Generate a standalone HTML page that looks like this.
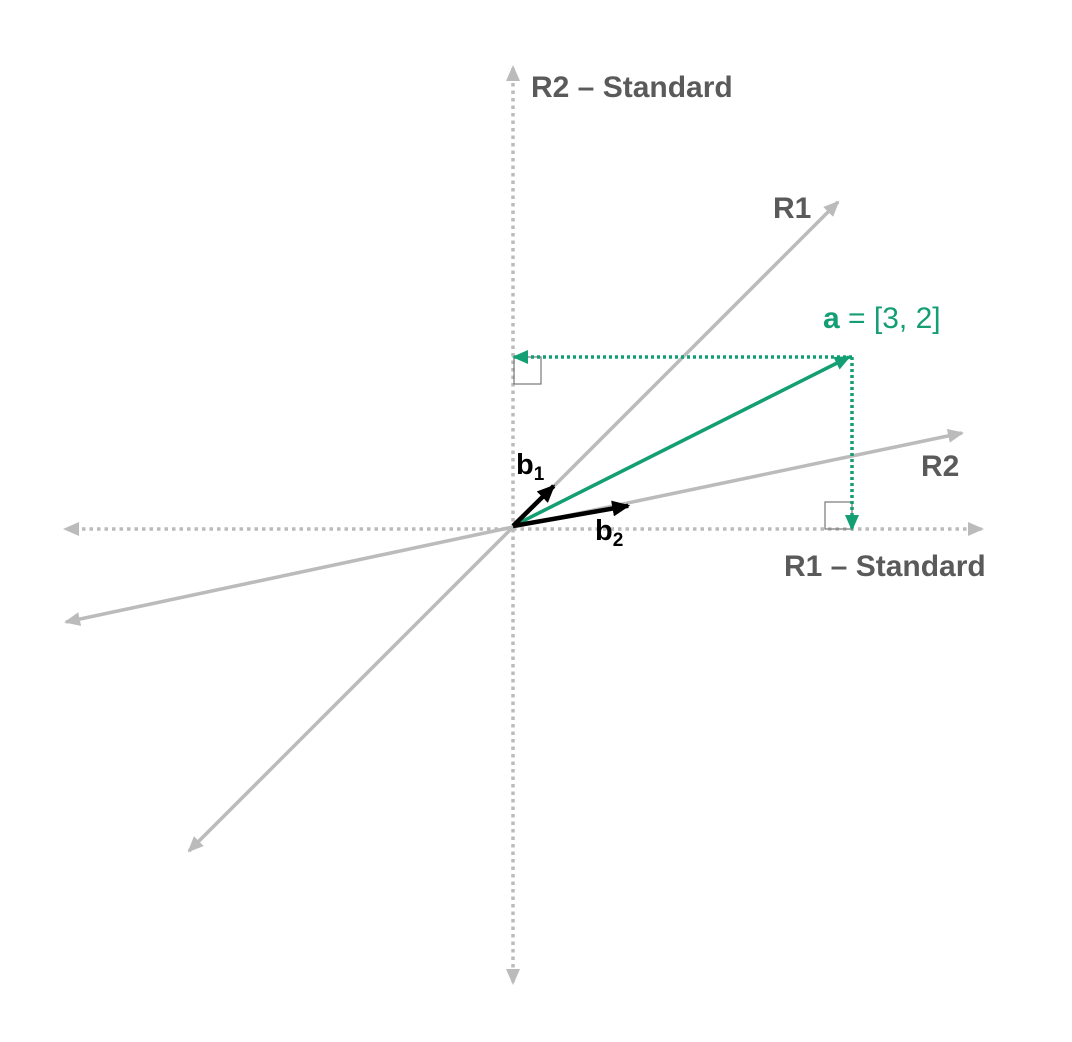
<!DOCTYPE html>
<html><head><meta charset="utf-8"><style>
html,body{margin:0;padding:0;background:#fff}
svg{display:block;font-family:"Liberation Sans","DejaVu Sans",sans-serif}
</style></head><body>
<svg id="chart" width="1072" height="1042" viewBox="0 0 1072 1042">
<defs>
<marker id="ag" markerWidth="16" markerHeight="14" refX="14" refY="7" orient="auto" markerUnits="userSpaceOnUse"><path d="M0,0 L16,7 L0,14 z" fill="#bbb"/></marker>
<marker id="agr" markerWidth="16" markerHeight="14" refX="14" refY="7" orient="auto" markerUnits="userSpaceOnUse"><path d="M0,0 L16,7 L0,14 z" fill="#139e73"/></marker>
<marker id="ab" markerWidth="18" markerHeight="16" refX="16" refY="8" orient="auto" markerUnits="userSpaceOnUse"><path d="M0,0 L18,8 L0,16 z" fill="#000"/></marker>
</defs>
<g id="g"></g>
</svg>
<script>
const aVec = [3, 2];
const b1Vec = [0.36, 0.5];
const b2Vec = [1.02, 0.27];
const ox = 513, oy = 529, ux = 113, uy = 86;
const X = v => ox + v * ux, Y = v => oy - v * uy;
const g = document.getElementById('g');
const NS = 'http://www.w3.org/2000/svg';
function mk(tag, attrs, name, parent) {
  const e = document.createElementNS(NS, tag);
  for (const k in attrs) e.setAttribute(k, attrs[k]);
  
  
  (parent || g).appendChild(e);
  return e;
}
mk('line',{x1:X(0),y1:oy,x2:982,y2:oy,stroke:'#bbb','stroke-width':3.5,'stroke-dasharray':'3.5 4','marker-end':'url(#ag)'},'r1-standard-axis-pos');
mk('line',{x1:X(0),y1:oy,x2:65,y2:oy,stroke:'#bbb','stroke-width':3.5,'stroke-dasharray':'3.5 4','marker-end':'url(#ag)'},'r1-standard-axis-neg');
mk('line',{x1:ox,y1:oy,x2:ox,y2:67,stroke:'#bbb','stroke-width':3.5,'stroke-dasharray':'3.5 4','marker-end':'url(#ag)'},'r2-standard-axis-pos');
mk('line',{x1:ox,y1:oy,x2:ox,y2:983,stroke:'#bbb','stroke-width':3.5,'stroke-dasharray':'3.5 4','marker-end':'url(#ag)'},'r2-standard-axis-neg');
mk('line',{x1:ox,y1:oy-2,x2:838,y2:202,stroke:'#bbb','stroke-width':3.5,'marker-end':'url(#ag)'},'r1-axis-pos');
mk('line',{x1:ox,y1:oy-2,x2:189,y2:851,stroke:'#bbb','stroke-width':3.5,'marker-end':'url(#ag)'},'r1-axis-neg');
mk('line',{x1:ox,y1:oy-2,x2:962,y2:433,stroke:'#bbb','stroke-width':3.5,'marker-end':'url(#ag)'},'r2-axis-pos');
mk('line',{x1:ox,y1:oy-2,x2:66,y2:622,stroke:'#bbb','stroke-width':3.5,'marker-end':'url(#ag)'},'r2-axis-neg');
mk('rect',{x:ox+1,y:Y(aVec[1]),width:27,height:27,fill:'none',stroke:'#777','stroke-width':1.2},'right-angle-y');
mk('rect',{x:X(aVec[0])-27,y:oy-27,width:27,height:27,fill:'none',stroke:'#777','stroke-width':1.2},'right-angle-x');
mk('line',{x1:X(aVec[0]),y1:Y(aVec[1]),x2:ox+1,y2:Y(aVec[1]),stroke:'#139e73','stroke-width':3.5,'stroke-dasharray':'3 3','marker-end':'url(#agr)'},'projection-r2');
mk('line',{x1:X(aVec[0]),y1:Y(aVec[1]),x2:X(aVec[0]),y2:oy,stroke:'#139e73','stroke-width':3.5,'stroke-dasharray':'3 3','marker-end':'url(#agr)'},'projection-r1');
mk('line',{x1:ox,y1:oy-3,x2:X(aVec[0])-3,y2:Y(aVec[1]),stroke:'#139e73','stroke-width':3.5,'marker-end':'url(#agr)'},'vector-a');
mk('line',{x1:ox,y1:oy-3,x2:X(b1Vec[0]),y2:Y(b1Vec[1]),stroke:'#000','stroke-width':4.5,'marker-end':'url(#ab)'},'basis-b1');
mk('line',{x1:ox,y1:oy-3,x2:X(b2Vec[0]),y2:Y(b2Vec[1]),stroke:'#000','stroke-width':4.5,'marker-end':'url(#ab)'},'basis-b2');
function txt(x,y,html,name,fill,size,anchor){const t=mk('text',{x:x,y:y,fill:fill,'font-size':size,'font-weight':'bold','text-anchor':anchor||'start'},name);t.innerHTML=html;return t;}
txt(531,97,'R2 – Standard','r2-standard-label','#5a5a5a',30);
txt(784,576,'R1 – Standard','r1-standard-label','#5a5a5a',30);
txt(773,218,'R1','r1-label','#5a5a5a',30);
txt(921,476,'R2','r2-label','#5a5a5a',30);
txt(823,328,'a<tspan font-weight="normal"> = [3, 2]</tspan>','vector-a-label','#139e73',30);
txt(516,474,'b<tspan font-size="19" dy="6">1</tspan>','b1-label','#000',29);
txt(595,540,'b<tspan font-size="19" dy="6">2</tspan>','b2-label','#000',29);
</script>
</body></html>
